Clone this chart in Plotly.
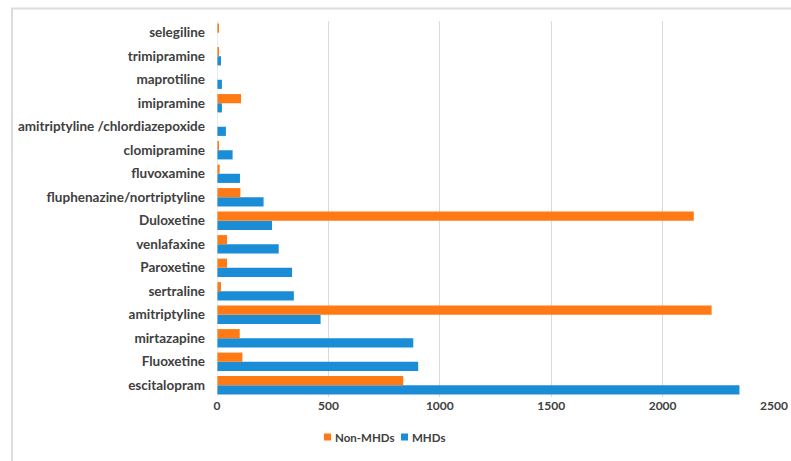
import plotly.graph_objects as go

categories = ["escitalopram", "Fluoxetine", "mirtazapine", "amitriptyline", "sertraline",
              "Paroxetine", "venlafaxine", "Duloxetine", "fluphenazine/nortriptyline",
              "fluvoxamine", "clomipramine", "amitriptyline /chlordiazepoxide", "imipramine",
              "maprotiline", "trimipramine", "selegiline"]
mhds = [2345, 903, 881, 465, 345, 337, 277, 247, 209, 103, 70, 40, 22, 22, 18, 0]
non_mhds = [836, 114, 102, 2220, 18, 45, 45, 2140, 105, 12, 7, 0, 108, 0, 5, 7]
x_ticks = [0, 500, 1000, 1500, 2000, 2500]
series_names = ["Non-MHDs", "MHDs"]
series_colors = ["#ff7a14", "#1a8dd6"]

W, H = 791, 461
L, R, T, B = 217, 17, 21, 64

fig = go.Figure()
fig.add_trace(go.Bar(y=categories, x=mhds, orientation="h", name=series_names[1],
                     marker=dict(color=series_colors[1], line=dict(width=0))))
fig.add_trace(go.Bar(y=categories, x=non_mhds, orientation="h", name=series_names[0],
                     marker=dict(color=series_colors[0], line=dict(width=0))))

pw = W - L - R
ph = H - T - B
fig.update_layout(
    width=W, height=H,
    margin=dict(l=L, r=R, t=T, b=B, pad=0, autoexpand=False),
    paper_bgcolor="white", plot_bgcolor="white",
    barmode="group", bargap=0.22, bargroupgap=0.0,
    font=dict(family="Lato", color="#404040", size=13),
    showlegend=False,
    xaxis=dict(range=[0, 2500], tickvals=x_ticks, ticktext=[str(v) for v in x_ticks],
               showgrid=True, gridcolor="#d9d9d9", gridwidth=1, zeroline=False,
               showline=False, ticks="", ticklen=0, automargin=False,
               tickfont=dict(family="Lato", size=12, color="#404040", weight="bold")),
    yaxis=dict(showgrid=False, zeroline=False, showline=False, ticks="",
               ticklabelstandoff=11, automargin=False,
               tickfont=dict(family="Lato", size=13.5, color="#404040", weight="bold")),
)

def px_x(px):
    return (px - L) / pw

def px_y(py):
    return 1 - (py - T) / ph

# left axis line
fig.add_shape(type="line", xref="x", yref="paper", x0=0, x1=0, y0=0, y1=1,
              line=dict(color="#d9d9d9", width=1))
# outer frame (top and left sides visible)
fig.add_shape(type="rect", xref="paper", yref="paper",
              x0=px_x(12), x1=px_x(W + 10), y0=px_y(H + 10), y1=px_y(8.5),
              fillcolor="rgba(0,0,0,0)", line=dict(color="#dcdcdc", width=2), layer="above")

# legend (custom, compact like the reference)
leg_y = 437
leg_items = [(324, series_names[0], series_colors[0]), (401, series_names[1], series_colors[1])]
for sx, name, col in leg_items:
    fig.add_shape(type="rect", xref="paper", yref="paper",
                  x0=px_x(sx), x1=px_x(sx + 7), y0=px_y(leg_y + 3.5), y1=px_y(leg_y - 3.5),
                  fillcolor=col, line=dict(width=0))
    fig.add_annotation(xref="paper", yref="paper", x=px_x(sx + 9), y=px_y(leg_y),
                       xanchor="left", yanchor="middle", showarrow=False, text=name,
                       font=dict(family="Lato", size=11.5, color="#404040", weight="bold"))

fig.write_html("out.html", config={"displayModeBar": False},
               post_script="document.body.style.margin='0';document.body.style.padding='0';")
